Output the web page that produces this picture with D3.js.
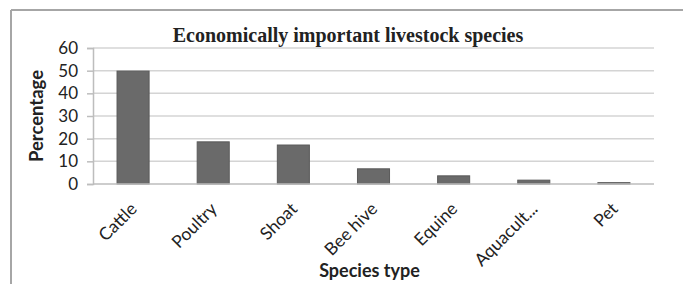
<!DOCTYPE html>
<html>
<head>
<script src="https://cdn.jsdelivr.net/npm/d3@7"></script>
<style>
  body { margin: 0; background: #fff; }
  text { font-family: Lato, "Open Sans", sans-serif; fill: #222; }
</style>
</head>
<body>
<div id="chart"></div>
<script>
// chart data
var species = ["Cattle", "Poultry", "Shoat", "Bee hive", "Equine", "Aquacult...", "Pet"]
var percent = [49.8, 18.6, 17.2, 6.7, 3.6, 1.7, 0.6]
var yTicks = [0, 10, 20, 30, 40, 50, 60]

var width = 683
var height = 284

var margin = { left: 93, right: 29, top: 48, bottom: 100 }

var svg = d3.select("#chart").append("svg")
  .attr("width", width)
  .attr("height", height)

// outer frame (only top and left edges fall inside the picture)
svg.append("line").attr("x1", 11).attr("y1", 10).attr("x2", width).attr("y2", 10)
  .attr("stroke", "#a6a6a6").attr("stroke-width", 2)
svg.append("line").attr("x1", 11).attr("y1", 10).attr("x2", 11).attr("y2", height)
  .attr("stroke", "#a6a6a6").attr("stroke-width", 2)

var x = d3.scaleBand()
  .domain(species)
  .range([margin.left, width - margin.right])
  .paddingInner(0.6)
  .paddingOuter(0.3)

var y = d3.scaleLinear()
  .domain([0, 60])
  .range([height - margin.bottom, margin.top])

// gridlines
svg.append("g").selectAll("line")
  .data(yTicks.slice(1))
  .enter().append("line")
  .attr("x1", margin.left)
  .attr("x2", width - margin.right)
  .attr("y1", d => y(d))
  .attr("y2", d => y(d))
  .attr("stroke", "#d4d4d4")
  .attr("stroke-width", 1.5)

// y axis
var yAxis = svg.append("g")
  .attr("transform", "translate(" + margin.left + ",0)")
  .call(d3.axisLeft(y).tickValues(yTicks).tickSize(6).tickPadding(9))
yAxis.select(".domain").attr("stroke", "#bdbdbd").attr("stroke-width", 1.5)
yAxis.selectAll(".tick line").attr("stroke", "#bdbdbd").attr("stroke-width", 1.5)
yAxis.selectAll("text").style("font-size", "17px").attr("fill", "#222")

// bars
svg.append("g").selectAll("rect")
  .data(percent)
  .enter().append("rect")
  .attr("x", (d, i) => x(species[i]))
  .attr("width", x.bandwidth())
  .attr("y", d => y(d))
  .attr("height", d => y(0) - y(d))
  .attr("fill", "#6a6a6a")
  .attr("stroke", "#5a5a5a")
  .attr("stroke-width", 1)

// x axis line
svg.append("line")
  .attr("x1", margin.left).attr("x2", width - margin.right)
  .attr("y1", y(0)).attr("y2", y(0))
  .attr("stroke", "#bdbdbd").attr("stroke-width", 1.5)

// x labels, rotated
svg.append("g").selectAll("text")
  .data(species)
  .enter().append("text")
  .attr("text-anchor", "end")
  .style("font-size", "17.5px")
  .attr("transform", d => "translate(" + (x(d) + x.bandwidth() / 2 + 5) + "," + (y(0) + 26) + ") rotate(-45)")
  .text(d => d)

// title
svg.append("text")
  .attr("x", 348)
  .attr("y", 42)
  .attr("text-anchor", "middle")
  .style("font-family", "'Liberation Serif', 'Times New Roman', serif")
  .style("font-weight", "bold")
  .style("font-size", "20px")
  .text("Economically important livestock species")

// axis titles
svg.append("text")
  .attr("x", (margin.left + width - margin.right) / 2 - 4)
  .attr("y", 277)
  .attr("text-anchor", "middle")
  .style("font-weight", "bold")
  .style("font-size", "18px")
  .text("Species type")

svg.append("text")
  .attr("transform", "translate(43," + ((y(0) + y(60)) / 2) + ") rotate(-90)")
  .attr("text-anchor", "middle")
  .style("font-weight", "bold")
  .style("font-size", "18.5px")
  .text("Percentage")
</script>
</body>
</html>
